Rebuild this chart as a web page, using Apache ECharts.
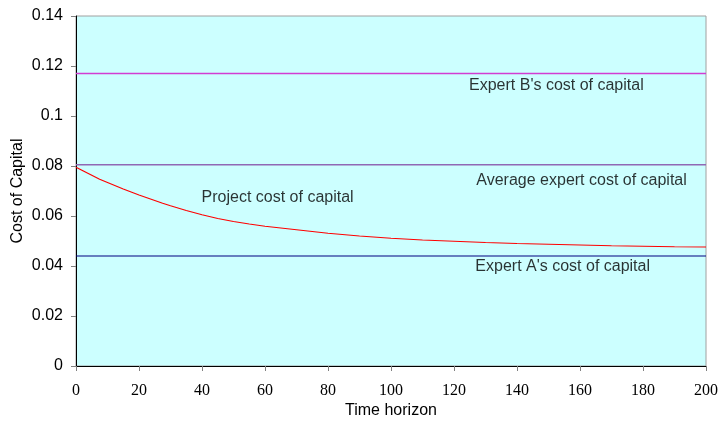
<!DOCTYPE html>
<html>
<head>
<meta charset="utf-8">
<script src="https://cdn.jsdelivr.net/npm/echarts@6/dist/echarts.min.js"></script>
<style>
  html, body { margin: 0; padding: 0; background: #fff; }
  #chart { width: 720px; height: 425px; }
</style>
</head>
<body>
<div id="chart"></div>
<script>
// Time horizon (years) at which the project rate is sampled
const timeHorizon = [0, 2.5, 5, 7.5, 10, 12.5, 15, 17.5, 20, 22.5, 25, 27.5, 30, 35, 40,
                     45, 50, 55, 60, 70, 80, 90, 100, 110, 120, 130, 140, 150, 160,
                     170, 180, 190, 200];
// Project (certainty-equivalent) cost of capital
const projectRate = [0.0795, 0.0779, 0.0763, 0.0747, 0.0734, 0.0721, 0.0708, 0.0696,
                     0.0684, 0.0673, 0.0662, 0.0651, 0.0641, 0.0622, 0.0605, 0.0590,
                     0.0578, 0.0568, 0.0559, 0.0545, 0.0531, 0.0520, 0.0511, 0.0504,
                     0.0499, 0.0494, 0.0490, 0.0487, 0.0484, 0.0481, 0.0479, 0.0477,
                     0.0476];
// Flat expert rates
const expertA = 0.044;
const expertB = 0.117;
const expertAvg = 0.0805;
const horizonEnds = [0, 200];

// Text annotations: [time, rate, text]
const annotations = [
  [152.5, 0.1120, "Expert B's cost of capital"],
  [160.5, 0.0743, 'Average expert cost of capital'],
  [64.0, 0.0672, 'Project cost of capital'],
  [154.5, 0.0397, "Expert A's cost of capital"]
];

const flat = v => horizonEnds.map(t => [t, v]);
const lineSeries = (name, data, color, width) => ({
  name, type: 'line', data, showSymbol: false, symbol: 'none', silent: true,
  lineStyle: { color, width }, itemStyle: { color }, z: 3
});

const FONT = 'Liberation Sans';
const chart = echarts.init(document.getElementById('chart'), null, { renderer: 'canvas' });
chart.setOption({
  animation: false,
  backgroundColor: '#ffffff',
  grid: {
    left: 76, right: 14, top: 16, bottom: 59,
    containLabel: false, outerBoundsMode: 'none',
    show: true, backgroundColor: '#CCFFFF', borderColor: '#A0A0A0', borderWidth: 1
  },
  xAxis: {
    type: 'value', min: 0, max: 200, interval: 20,
    name: 'Time horizon', nameLocation: 'middle', nameGap: 37, nameMoveOverlap: false,
    nameTextStyle: { fontFamily: FONT, fontSize: 16, color: '#000' },
    axisLine: { show: true, onZero: false, lineStyle: { color: '#000', width: 1 } },
    axisTick: { show: true, inside: false, length: 5, lineStyle: { color: '#808080' } },
    axisLabel: { fontFamily: 'Liberation Serif', fontSize: 16, color: '#000', margin: 17 },
    splitLine: { show: false }
  },
  yAxis: {
    type: 'value', min: 0, max: 0.14, interval: 0.02,
    name: 'Cost of Capital', nameLocation: 'middle', nameRotate: 90, nameGap: 50,
    nameMoveOverlap: false,
    nameTextStyle: { fontFamily: FONT, fontSize: 16, color: '#000' },
    axisLine: { show: true, lineStyle: { color: '#000', width: 1 } },
    axisTick: { show: true, inside: false, length: 5, lineStyle: { color: '#808080' } },
    axisLabel: {
      fontFamily: FONT, fontSize: 16, color: '#000', margin: 13,
      formatter: v => String(parseFloat(v.toFixed(2)))
    },
    splitLine: { show: false }
  },
  series: [
    lineSeries('Expert B', flat(expertB), '#D23CD2', 1.5),
    lineSeries('Average', flat(expertAvg), '#9068B4', 1.5),
    lineSeries('Expert A', flat(expertA), '#000080', 1.2),
    lineSeries('Project', timeHorizon.map((t, i) => [t, projectRate[i]]), '#FF0000', 1.2),
    {
      type: 'scatter', silent: true, symbolSize: 0, z: 5,
      data: annotations.map(a => ({ value: [a[0], a[1]], name: a[2] })),
      label: {
        show: true, position: 'inside', formatter: p => p.name,
        fontFamily: FONT, fontSize: 16, color: '#000'
      }
    }
  ]
});
</script>
</body>
</html>
